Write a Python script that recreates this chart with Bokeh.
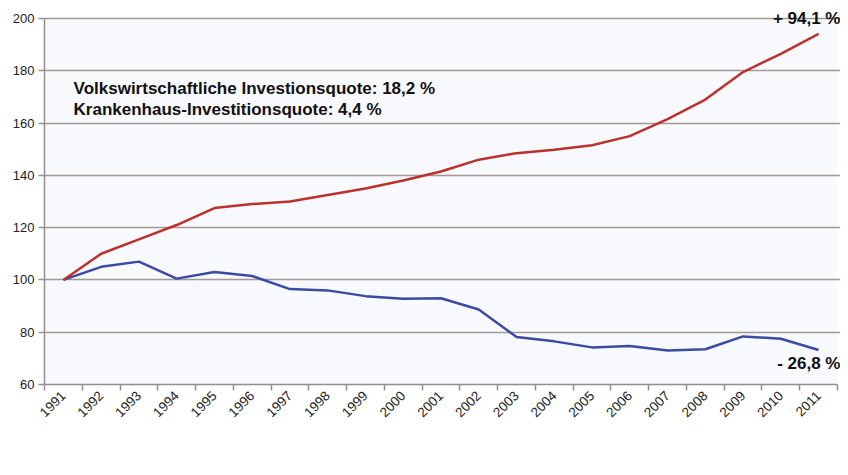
import math
from bokeh.plotting import figure
from bokeh.models import (ColumnDataSource, Label, Legend, LegendItem, FixedTicker,
                          Range1d)
from bokeh.embed import file_html
from bokeh.resources import INLINE

years = [1991, 1992, 1993, 1994, 1995, 1996, 1997, 1998, 1999, 2000, 2001,
         2002, 2003, 2004, 2005, 2006, 2007, 2008, 2009, 2010, 2011]
khg = [100, 105, 107, 100.5, 103, 101.5, 96.5, 96, 93.8, 92.8, 93,
       88.7, 78.2, 76.5, 74.2, 74.7, 73, 73.5, 78.4, 77.5, 73.2]
kosten = [100, 110, 115.5, 121, 127.5, 129, 130, 132.5, 135, 138, 141.5,
          146, 148.5, 149.8, 151.5, 155, 161.5, 169, 179.5, 186.5, 194.1]
y_ticks = [60, 80, 100, 120, 140, 160, 180, 200]
series_names = ["KHG-Investitionsförderung", "Bereinigte Kosten der Krankenhäuser"]
annot_lines = ["Volkswirtschaftliche Investionsquote: 18,2 %",
               "Krankenhaus-Investitionsquote: 4,4 %"]
end_labels = ["+ 94,1 %", "- 26,8 %"]

FONT = "Liberation Sans"
BLUE = "#3a4aa6"
RED = "#bd312c"
GRID = "#a19893"

src = ColumnDataSource(dict(year=years, khg=khg, kosten=kosten))

x_lo, x_hi = years[0] - 0.5, years[-1] + 0.5
# head-room above 200 and right of 2011 so the end labels are not clipped
p = figure(frame_width=796, frame_height=378, output_backend="svg",
           toolbar_location=None,
           x_range=Range1d(x_lo, x_hi + 0.08),
           y_range=Range1d(y_ticks[0], 204.59),
           min_border_left=44, min_border_right=0, min_border_top=6,
           min_border_bottom=0)
p.background_fill_color = "white"
p.border_fill_color = "white"
p.outline_line_color = None

# light plot-area band between 60 and 200
p.hbar(y=[(y_ticks[0] + y_ticks[-1]) / 2], height=[y_ticks[-1] - y_ticks[0]],
       left=x_lo, right=x_hi, fill_color="#f8f9fc",
       line_color=None, level="image")

# axes
p.xaxis.ticker = FixedTicker(ticks=years,
                             minor_ticks=[y - 0.5 for y in years] + [x_hi])
p.xaxis.bounds = (x_lo, x_hi)
p.xaxis.major_tick_line_color = None
p.xaxis.minor_tick_line_color = "#8f8f8f"
p.xaxis.minor_tick_line_width = 1.5
p.xaxis.minor_tick_out = 6
p.xaxis.minor_tick_in = 0
p.xaxis.major_label_orientation = math.pi / 4
p.xaxis.major_label_text_font = FONT
p.xaxis.major_label_text_font_size = "13.5px"
p.xaxis.major_label_text_color = "#222222"
p.xaxis.major_label_standoff = 3
p.xaxis.axis_line_color = "#8f8f8f"
p.xaxis.axis_line_width = 1.5

p.yaxis.ticker = FixedTicker(ticks=y_ticks, minor_ticks=[])
p.yaxis.bounds = (y_ticks[0], y_ticks[-1])
p.yaxis.major_tick_out = 6
p.yaxis.major_tick_in = 0
p.yaxis.major_tick_line_color = "#8f8f8f"
p.yaxis.major_tick_line_width = 1.5
p.yaxis.axis_line_color = "#8f8f8f"
p.yaxis.axis_line_width = 1.5
p.yaxis.major_label_text_font = FONT
p.yaxis.major_label_text_font_size = "13px"
p.yaxis.major_label_text_color = "#222222"
p.yaxis.major_label_standoff = 4

p.xgrid.grid_line_color = None
p.ygrid.grid_line_color = GRID
p.ygrid.grid_line_width = 1.5
p.ygrid.bounds = (x_lo, x_hi)

r1 = p.line("year", "khg", source=src, line_color=BLUE, line_width=2.5)
r2 = p.line("year", "kosten", source=src, line_color=RED, line_width=2.5)

legend = Legend(items=[LegendItem(label=series_names[0], renderers=[r1]),
                       LegendItem(label=series_names[1], renderers=[r2])],
                orientation="horizontal", location="center",
                border_line_color=None, background_fill_alpha=0,
                padding=2, margin=0, spacing=61, label_standoff=3,
                glyph_width=28, glyph_height=12,
                label_text_font=FONT, label_text_font_size="11.5px",
                label_text_color="#111111")
p.add_layout(legend, "below")

for i, t in enumerate(annot_lines):
    p.add_layout(Label(x=years[0] + 0.27, y=[173.4, 165.2][i], text=t,
                       text_font=FONT, text_font_style="bold", text_font_size="17px",
                       text_baseline="middle", text_color="#111111"))

p.add_layout(Label(x=x_hi, y=y_ticks[-1], text=end_labels[0],
                   text_align="right", text_baseline="middle", x_offset=3,
                   text_font=FONT, text_font_style="bold", text_font_size="17px",
                   text_color="#111111"))
p.add_layout(Label(x=x_hi, y=68.2, text=end_labels[1],
                   text_align="right", text_baseline="middle", x_offset=3,
                   text_font=FONT, text_font_style="bold", text_font_size="17px",
                   text_color="#111111"))

open("out.html", "w").write(file_html(p, INLINE))
